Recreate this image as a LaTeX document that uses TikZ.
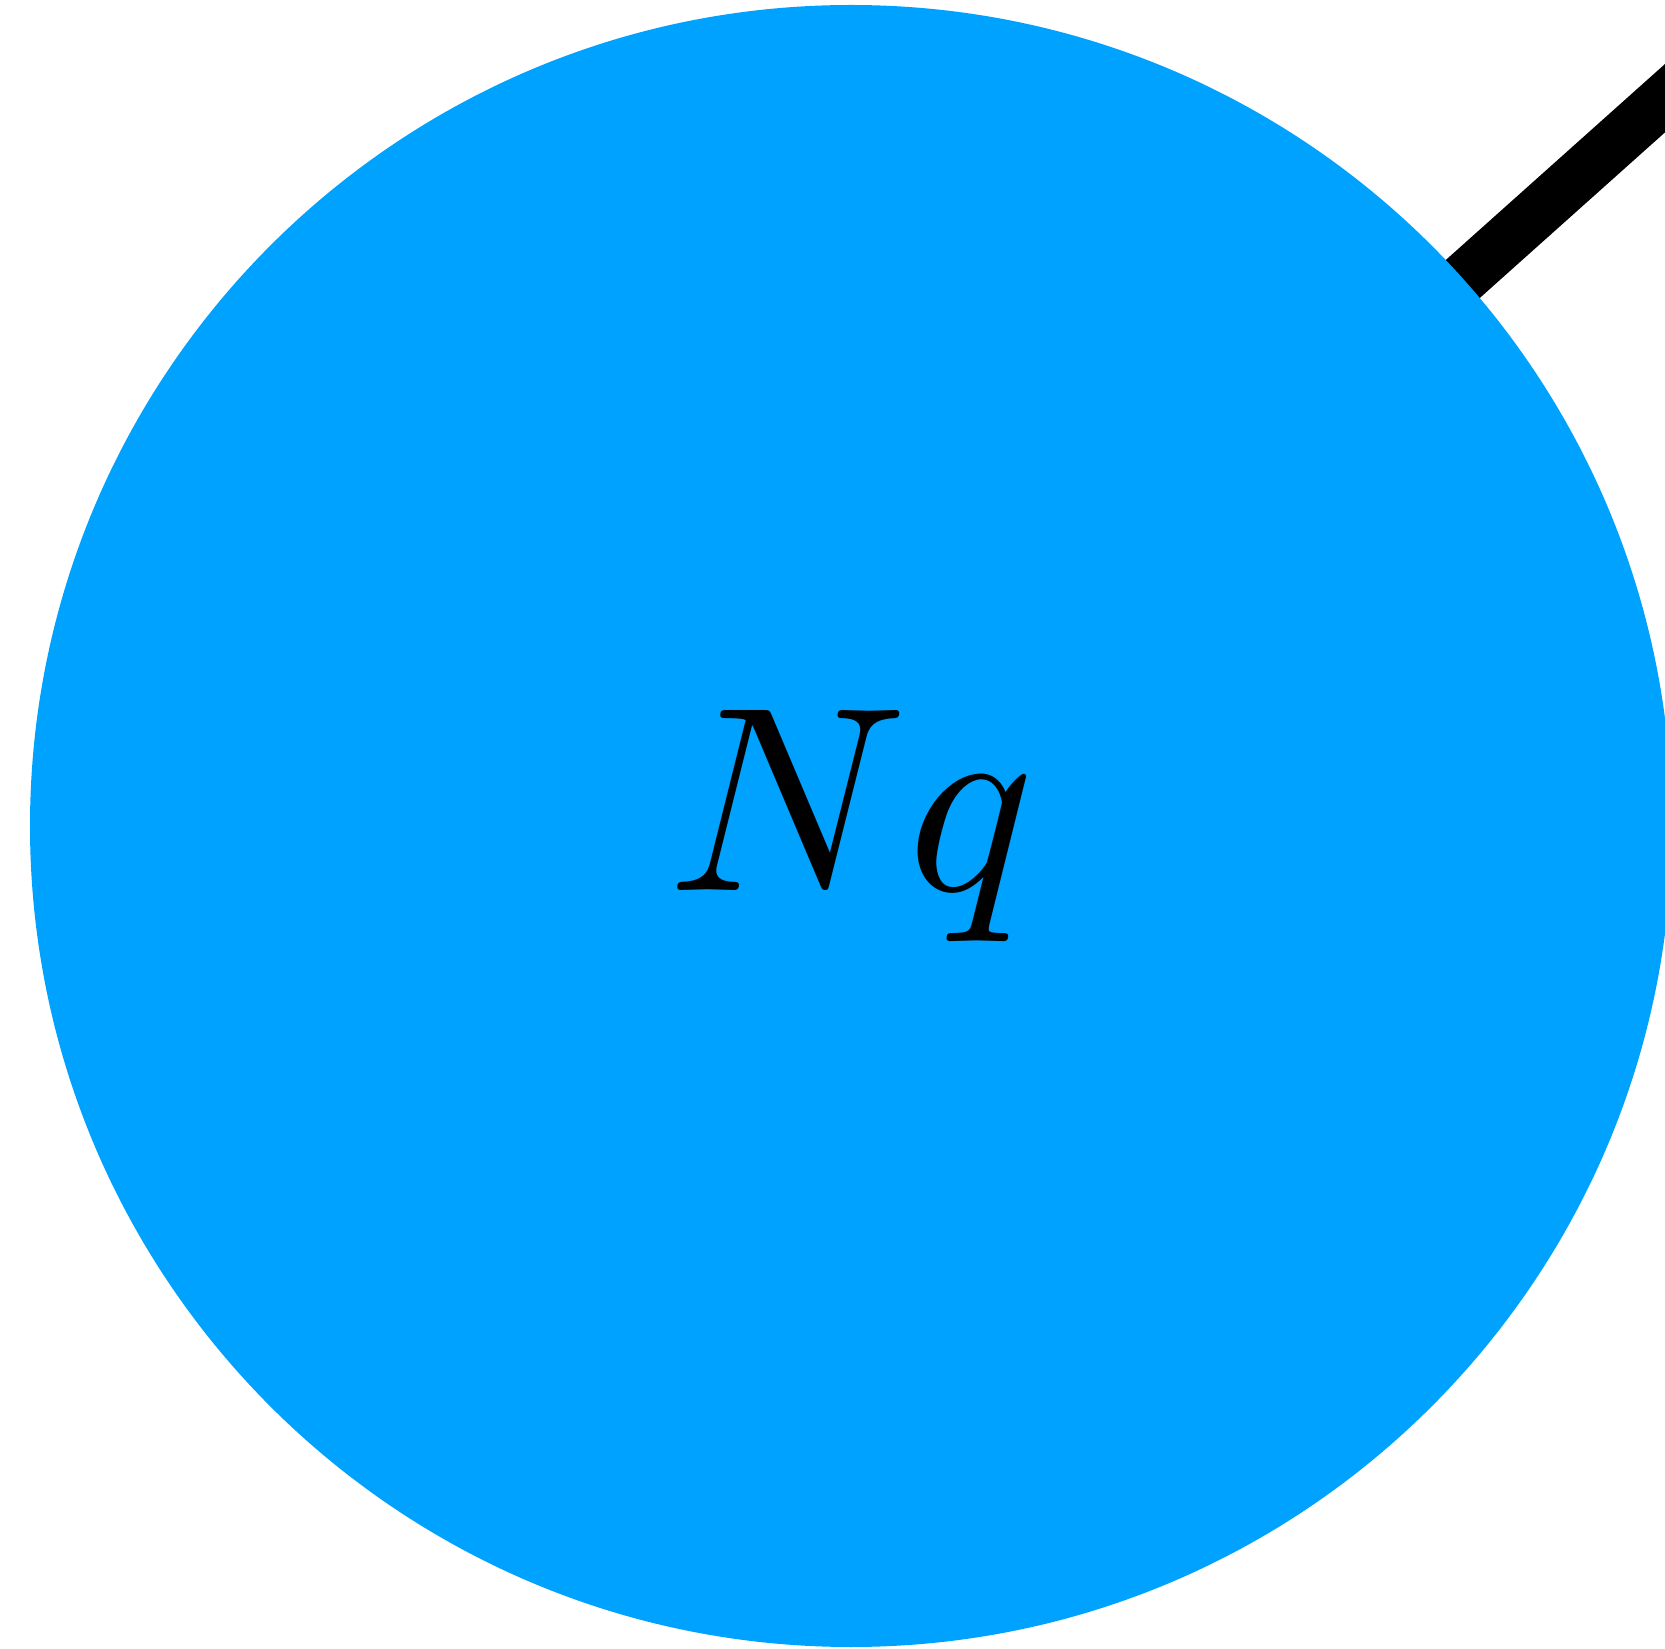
\documentclass[tikz,border=0pt]{standalone}
\usepackage{amsmath,amssymb}
\usepackage{graphicx}
\usepackage{xcolor}
\usepackage{tikz}
\usetikzlibrary{positioning,calc}
\definecolor{vertexblue}{HTML}{00A2FF}
\newcommand{\biglabel}[1]{\scalebox{7.5}{#1}}

\begin{document}
\begin{tikzpicture}[
  vertex/.style={circle, fill=vertexblue, inner sep=0pt, minimum size=16.42cm},
  link/.style={line width=14.5pt}
]
  \useasboundingbox (0,-16.49) rectangle (16.65,0);
  \coordinate (out) at ($(8.51,-8.26)+(41.8:14)$);
  \draw[link] (8.51,-8.26) -- (out);
  \node[vertex] (nq) at (8.51,-8.26) {\biglabel{$Nq$}};
\end{tikzpicture}
\end{document}
